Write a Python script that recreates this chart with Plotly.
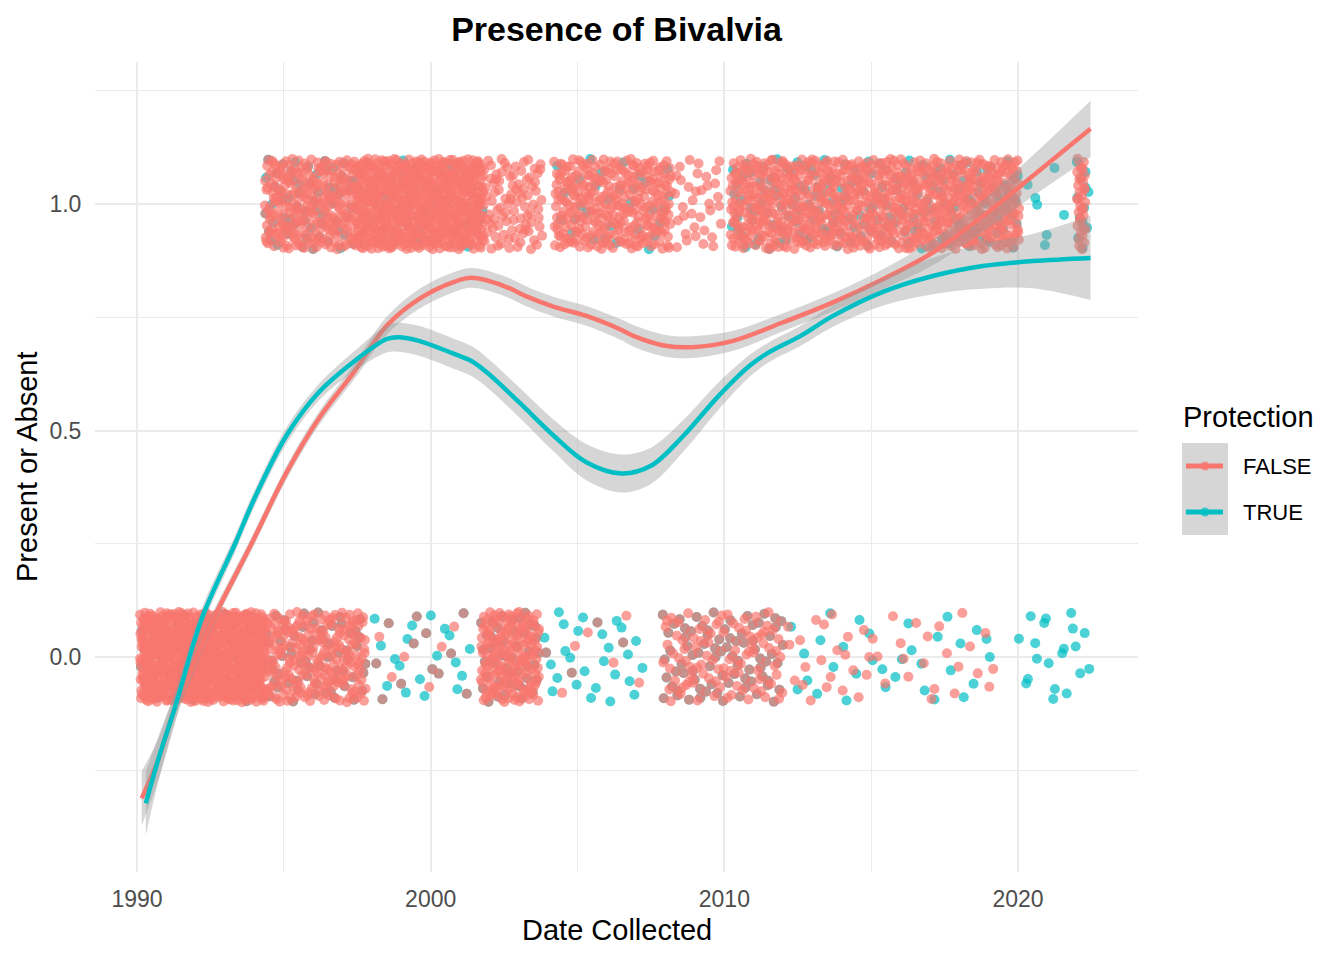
import numpy as np
import plotly.graph_objects as go

# smoothed trend (loess): year, fitted value, half width of the band
false_year = [1990.16, 1990.73, 1991.3, 1992.0, 1992.6, 1993.9, 1995.1, 1996.2, 1997.4,
              1998.5, 1999.6, 2000.8, 2001.4, 2002.5, 2003.3, 2004.2, 2005.3, 2006.5, 2006.9,
              2008.0, 2008.9, 2010.3, 2012.0, 2013.7, 2015.4, 2017.1, 2018.8, 2020.5, 2022.47]
false_fit = [-0.312, -0.225, -0.11, -0.005, 0.084, 0.25, 0.408, 0.527, 0.63,
             0.731, 0.79, 0.828, 0.837, 0.819, 0.795, 0.773, 0.753, 0.722, 0.709,
             0.687, 0.684, 0.698, 0.739, 0.783, 0.834, 0.893, 0.973, 1.062, 1.166]
false_se = [0.06, 0.045, 0.03, 0.02, 0.017, 0.015, 0.015, 0.015, 0.017,
            0.02, 0.022, 0.022, 0.022, 0.022, 0.022, 0.022, 0.022, 0.023, 0.024,
            0.024, 0.024, 0.022, 0.02, 0.02, 0.022, 0.028, 0.035, 0.045, 0.062]

true_year = [1990.3, 1990.73, 1991.3, 1992.2, 1993.34, 1994.0, 1995.1, 1996.2, 1997.4, 1998.5,
             1998.9, 1999.6, 2000.8, 2001.4, 2001.9, 2003.0, 2004.2, 2005.3, 2006.5, 2007.5,
             2008.6, 2009.8, 2010.9, 2011.5, 2012.6, 2013.7, 2015.4, 2017.1, 2018.8, 2020.5, 2022.47]
true_fit = [-0.323, -0.225, -0.11, 0.084, 0.25, 0.35, 0.49, 0.585, 0.653, 0.702,
            0.706, 0.698, 0.669, 0.653, 0.629, 0.563, 0.488, 0.43, 0.405, 0.422,
            0.488, 0.576, 0.645, 0.672, 0.709, 0.753, 0.806, 0.841, 0.863, 0.874, 0.881]
true_se = [0.07, 0.05, 0.035, 0.022, 0.018, 0.018, 0.018, 0.018, 0.022, 0.03,
           0.032, 0.033, 0.033, 0.033, 0.033, 0.033, 0.035, 0.04, 0.042, 0.04,
           0.035, 0.03, 0.024, 0.022, 0.022, 0.024, 0.03, 0.04, 0.05, 0.06, 0.093]

# observations, read as blocks of sampling dates: first year, last year, number of records
false_present_start = [1994.35, 1997.4, 2001.8, 2004.2, 2008.3, 2010.2, 2016.8, 2022.0]
false_present_end = [1997.4, 2001.8, 2003.8, 2008.2, 2009.9, 2016.8, 2020.05, 2022.3]
false_present_n = [260, 620, 90, 300, 35, 550, 280, 35]

true_present_start = [1994.35, 1997.4, 2004.2, 2010.2, 2020.3, 2022.0]
true_present_end = [1997.4, 2001.8, 2008.2, 2020.05, 2021.6, 2022.4]
true_present_n = [60, 40, 30, 170, 7, 12]

false_absent_start = [1990.1, 1994.4, 1998.0, 2001.7, 2003.8, 2007.9, 2012.1, 2015.0]
false_absent_end = [1994.4, 1997.8, 2001.4, 2003.7, 2007.3, 2012.0, 2015.0, 2019.2]
false_absent_n = [700, 260, 18, 190, 10, 170, 22, 22]

true_absent_start = [1990.1, 1994.4, 1998.0, 2001.7, 2003.8, 2007.9, 2012.1, 2020.0]
true_absent_end = [1994.4, 1997.8, 2001.4, 2003.7, 2007.3, 2012.0, 2019.2, 2022.45]
true_absent_n = [60, 60, 30, 45, 30, 80, 32, 20]

RED = "#F8766D"
TEAL = "#00BFC4"
BAND = "rgba(153,153,153,0.4)"
FONT = "Liberation Sans, Arial, sans-serif"


def radical_inverse(i, base):
    out, f = np.zeros(len(i)), 1.0 / base
    i = i.copy()
    while i.any():
        out += f * (i % base)
        i //= base
        f /= base
    return out


def jitter(starts, ends, counts, level, offset):
    # even (Halton) spread of the records inside each block, +-0.1 in height
    xs, ys = [], []
    for k, (a, b, n) in enumerate(zip(starts, ends, counts)):
        i = np.arange(n) + 1 + offset + 97 * k
        xs.append(a + (b - a) * radical_inverse(i, 2))
        ys.append(level - 0.1 + 0.2 * radical_inverse(i, 3))
    return np.concatenate(xs), np.concatenate(ys)


fig = go.Figure()

for starts, ends, counts, level, col, off in [
    (true_absent_start, true_absent_end, true_absent_n, 0, TEAL, 11),
    (true_present_start, true_present_end, true_present_n, 1, TEAL, 23),
    (false_absent_start, false_absent_end, false_absent_n, 0, RED, 5),
    (false_present_start, false_present_end, false_present_n, 1, RED, 41),
]:
    x, y = jitter(starts, ends, counts, level, off)
    fig.add_trace(go.Scatter(x=x, y=y, mode="markers", showlegend=False, hoverinfo="skip",
                             marker=dict(size=10, color=col, opacity=0.7, line=dict(width=0))))

for yr, fit, se, col in [(false_year, false_fit, false_se, RED), (true_year, true_fit, true_se, TEAL)]:
    fit = np.array(fit)
    se = np.array(se)
    fig.add_trace(go.Scatter(x=yr, y=fit - se, mode="lines", line=dict(width=0, shape="spline"),
                             showlegend=False, hoverinfo="skip"))
    fig.add_trace(go.Scatter(x=yr, y=fit + se, mode="lines", line=dict(width=0, shape="spline"),
                             fill="tonexty", fillcolor=BAND, showlegend=False, hoverinfo="skip"))
    fig.add_trace(go.Scatter(x=yr, y=fit, mode="lines", showlegend=False,
                             line=dict(color=col, width=4.5, shape="spline")))

fig.update_layout(
    width=1336, height=952,
    margin=dict(l=87, r=206, t=54, b=88),
    plot_bgcolor="white", paper_bgcolor="white",
    font=dict(family=FONT, color="black"),
    title=dict(text="<b>Presence of Bivalvia</b>", x=0.5, xref="paper", y=1 - 21 / 952,
               yref="container", yanchor="middle", font=dict(size=34, color="black")),
)
fig.update_xaxes(range=[1988.57, 2024.086], tickvals=[1990, 2000, 2010, 2020],
                 showgrid=True, gridcolor="#ebebeb", gridwidth=2.2, zeroline=False, showline=False,
                 ticks="outside", ticklen=6, tickcolor="rgba(0,0,0,0)",
                 tickfont=dict(size=23, color="#4d4d4d"),
                 minor=dict(tickvals=[1995, 2005, 2015], showgrid=True, gridcolor="#ebebeb", gridwidth=1.1))
fig.update_yaxes(range=[-0.4746, 1.3135], tickvals=[0, 0.5, 1], ticktext=["0.0", "0.5", "1.0"],
                 showgrid=True, gridcolor="#ebebeb", gridwidth=2.2, zeroline=False, showline=False,
                 ticks="outside", ticklen=8, tickcolor="rgba(0,0,0,0)",
                 tickfont=dict(size=23, color="#4d4d4d"),
                 minor=dict(tickvals=[-0.25, 0.25, 0.75, 1.25], showgrid=True, gridcolor="#ebebeb",
                            gridwidth=1.1))


def px(p):
    return (p - 95) / 1043


def py(p):
    return (872 - p) / 810


fig.add_annotation(text="Date Collected", x=0.5, y=py(930), xref="paper", yref="paper",
                   showarrow=False, yanchor="middle", font=dict(size=29, color="black"))
fig.add_annotation(text="Present or Absent", x=px(27), y=py(467), xref="paper", yref="paper",
                   showarrow=False, textangle=-90, xanchor="center", yanchor="middle",
                   font=dict(size=29, color="black"))

# legend drawn by hand
fig.add_annotation(text="Protection", x=px(1181), y=py(417), xref="paper", yref="paper",
                   showarrow=False, xanchor="left", yanchor="middle", font=dict(size=29, color="black"))
fig.add_shape(type="rect", xref="paper", yref="paper", x0=px(1182), x1=px(1228), y0=py(443), y1=py(535),
              fillcolor=BAND, line=dict(width=0))
for label, col, yc in [("FALSE", RED, 466), ("TRUE", TEAL, 512)]:
    fig.add_shape(type="line", xref="paper", yref="paper", x0=px(1186), x1=px(1223), y0=py(yc), y1=py(yc),
                  line=dict(color=col, width=5))
    fig.add_shape(type="circle", xref="paper", yref="paper", x0=px(1200.5), x1=px(1209.5),
                  y0=py(yc - 4.5), y1=py(yc + 4.5), fillcolor=col, opacity=0.7, line=dict(width=0))
    fig.add_annotation(text=label, x=px(1241), y=py(yc), xref="paper", yref="paper", showarrow=False,
                       xanchor="left", yanchor="middle", font=dict(size=22, color="black"))

fig.write_html("out.html")
